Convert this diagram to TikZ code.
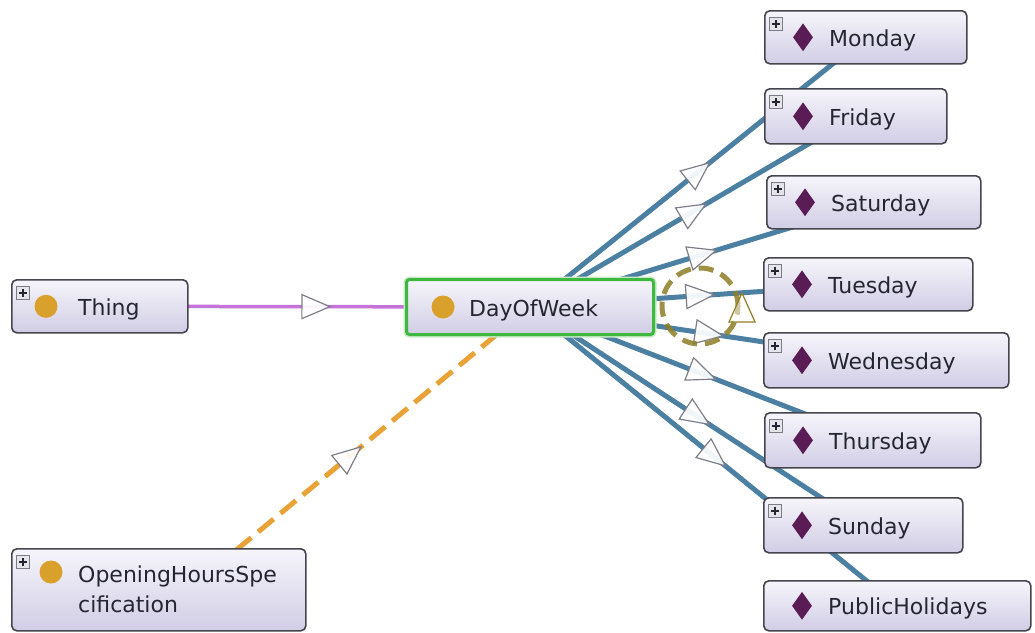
\documentclass[tikz,border=0pt]{standalone}
\usepackage{fontspec}
\setmainfont{DejaVu Sans}
\usetikzlibrary{calc,decorations.markings,shapes.geometric}
\pgfdeclarelayer{canvas}
\pgfdeclarelayer{edges}
\pgfsetlayers{canvas,edges,main}

\definecolor{boxtop}{HTML}{F6F5FB}
\definecolor{boxbot}{HTML}{D1CDE5}
\definecolor{boxline}{HTML}{45454F}
\definecolor{plusfill}{HTML}{E4E4EA}
\definecolor{plusline}{HTML}{7C7C86}
\definecolor{classdot}{HTML}{D9A02C}
\definecolor{indiv}{HTML}{5A1C55}
\definecolor{labeltext}{HTML}{262632}
\definecolor{instline}{HTML}{4C80A2}
\definecolor{subline}{HTML}{C474D8}
\definecolor{domline}{HTML}{E8A236}
\definecolor{loopline}{HTML}{8E7E26}
\definecolor{focus}{HTML}{3FB83F}
\definecolor{tipline}{HTML}{7E7E8A}

\tikzset{
  ent/.style={draw=boxline, line width=1.6pt, rounded corners=5pt,
    top color=boxtop, bottom color=boxbot, anchor=north west, inner sep=0pt},
  focusent/.style={ent, draw=focus, line width=3pt, rounded corners=3pt,
    preaction={draw=focus!30, line width=6pt}},
  plusbox/.style={draw=plusline, fill=plusfill, line width=0.8pt,
    minimum size=13pt, inner sep=0pt, anchor=north west,
    path picture={
      \draw[labeltext, line width=1.4pt]
        ([xshift=-4pt]path picture bounding box.center) --
        ([xshift=4pt]path picture bounding box.center)
        ([yshift=-4pt]path picture bounding box.center) --
        ([yshift=4pt]path picture bounding box.center);}},
  clsdot/.style={circle, fill=classdot, minimum size=23pt, inner sep=0pt},
  inddot/.style={diamond, fill=indiv, minimum width=20pt, minimum height=28pt, inner sep=0pt},
  lbl/.style={anchor=base west, inner sep=0pt, text=labeltext,
    font=\fontsize{22}{30}\selectfont},
  midtip/.style={postaction={decorate}, decoration={markings,
    mark=at position 0.5 with {
      \draw[solid, line width=1.2pt, draw=tipline, fill=white, fill opacity=0.92]
        (-13,-12) -- (15,0) -- (-13,12) -- cycle;}}},
  inst/.style={draw=instline, line width=5pt, midtip},
  sub/.style={draw=subline, line width=3.5pt, midtip},
  dom/.style={draw=domline, line width=5pt, dash pattern=on 20pt off 9pt, midtip},
  selfloop/.style={draw=loopline, line width=5pt, dash pattern=on 15pt off 8pt,
    draw opacity=0.85},
}

\begin{document}
\begin{tikzpicture}[x=1pt, y=-1pt]
\begin{pgfonlayer}{canvas}
  \fill[white] (0,0) rectangle (1035,632);
\end{pgfonlayer}
\useasboundingbox (0,0) rectangle (1035,632);

% classes
\node[ent, minimum width=176pt, minimum height=53pt] (thing) at (11,279) {};
\node[focusent, minimum width=247pt, minimum height=55pt] (dow) at (405,278) {};
\node[ent, minimum width=294pt, minimum height=82pt] (ohs) at (11,548) {};

% individuals
\node[ent, minimum width=202pt, minimum height=53pt] (mon) at (764,10) {};
\node[ent, minimum width=182pt, minimum height=55pt] (fri) at (764,88) {};
\node[ent, minimum width=214pt, minimum height=53pt] (sat) at (766,175) {};
\node[ent, minimum width=209pt, minimum height=53pt] (tue) at (763,257) {};
\node[ent, minimum width=245pt, minimum height=55pt] (wed) at (763,332) {};
\node[ent, minimum width=216pt, minimum height=55pt] (thu) at (764,412) {};
\node[ent, minimum width=199pt, minimum height=55pt] (sun) at (763,497) {};
\node[ent, minimum width=267pt, minimum height=50pt] (pub) at (763,580) {};

% class icons and labels
\node[clsdot] (thing-icon) at ([xshift=35pt]thing.west) {};
\node[lbl] (thing-text) at ([xshift=67pt, yshift=-9pt]thing.west) {Thing};
\node[clsdot] (dow-icon) at ([xshift=38pt]dow.west) {};
\node[lbl] (dow-text) at ([xshift=64pt, yshift=-9pt]dow.west) {DayOfWeek};
\node[clsdot] (ohs-icon) at ([shift={(40pt,-24pt)}]ohs.north west) {};
\node[lbl] (ohs-text1) at ([shift={(67pt,-34pt)}]ohs.north west) {OpeningHoursSpe};
\node[lbl] (ohs-text2) at ([shift={(67pt,-64pt)}]ohs.north west) {cification};

% individual icons and labels
\foreach \n/\t in {mon/Monday, fri/Friday, sat/Saturday, tue/Tuesday,
                   wed/Wednesday, thu/Thursday, sun/Sunday, pub/PublicHolidays}{
  \node[inddot] (\n-icon) at ([xshift=39pt]\n.west) {};
  \node[lbl] (\n-text) at ([xshift=65pt, yshift=-9pt]\n.west) {\t};
}

% expand buttons
\foreach \n in {thing, ohs, mon, fri, sat, tue, wed, thu, sun}{
  \node[plusbox] (\n-plus) at ([shift={(5pt,-7pt)}]\n.north west) {};
}

% connectors, drawn behind the boxes
\begin{pgfonlayer}{edges}
  \draw[sub] (thing.center) -- (dow.center);
  \coordinate (ohs-port) at ($(ohs.center)+(10,16)$);
  \draw[dom] (ohs-port) -- (dow.center);
  \foreach \d in {mon, fri, sat, tue, wed, thu, sun, pub}{
    \draw[inst] (dow.center) -- (\d.center);
  }
\end{pgfonlayer}

% self loop on DayOfWeek
\coordinate (loopc) at ($(dow.east)+(45,-1)$);
\draw[selfloop] (loopc) circle[radius=38pt];
\draw[line width=1.2pt, draw=loopline, fill=white, fill opacity=0.5]
  ($(loopc)+(29,16)$) -- ($(loopc)+(55,16)$) -- ($(loopc)+(42,-13)$) -- cycle;
\end{tikzpicture}
\end{document}
